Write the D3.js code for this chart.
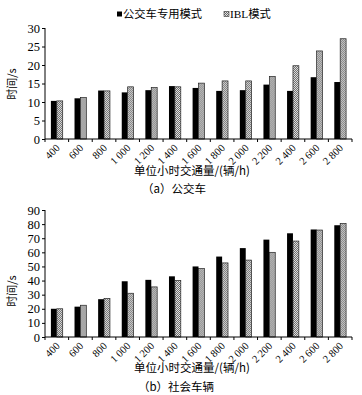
<!DOCTYPE html>
<html><head><meta charset="utf-8">
<script src="https://cdn.jsdelivr.net/npm/d3@7"></script>
<style>body{margin:0;background:#fff}svg{display:block}</style>
</head><body>
<svg id="c" width="362" height="395"></svg>
<script>
const categories = ["400","600","800","1 000","1 200","1 400","1 600","1 800","2 000","2 200","2 400","2 600","2 800"];
const seriesNames = ["公交车专用模式","IBL 模式"];
const busDedicated = [10.3,11.0,13.1,12.6,13.2,14.3,13.8,13.0,13.2,14.7,13.0,16.7,15.4];
const busIBL       = [10.3,11.2,13.0,14.1,13.9,14.1,15.1,15.7,15.7,16.9,19.8,23.8,27.1];
const carDedicated = [20.0,21.5,26.8,39.5,40.5,43.0,50.0,57.0,63.0,69.0,73.5,76.2,79.2];
const carIBL       = [20.0,22.5,27.3,31.0,35.5,40.0,48.5,52.5,54.5,60.0,68.0,75.8,80.5];
const busTicks = [0,5,10,15,20,25,30];
const carTicks = [0,10,20,30,40,50,60,70,80,90];

const svg = d3.select("#c");
const serif = "'Liberation Serif', serif";
const cjk = "'Noto Sans CJK SC', sans-serif";

const defs = svg.append("defs");
const pat = defs.append("pattern").attr("id","hatch").attr("patternUnits","userSpaceOnUse")
  .attr("width",2).attr("height",2);
pat.append("rect").attr("width",2).attr("height",2).attr("fill","#e4e4e4");
pat.append("rect").attr("width",1).attr("height",1).attr("fill","#6a6a6a");
pat.append("rect").attr("x",1).attr("y",1).attr("width",1).attr("height",1).attr("fill","#6a6a6a");

// legend
const lg = svg.append("g");
lg.append("rect").attr("x",117).attr("y",11.5).attr("width",5).attr("height",5).attr("fill","#000");
lg.append("text").attr("x",123).attr("y",18).style("font-family",cjk).style("font-size","11.3px").text(seriesNames[0]);
lg.append("rect").attr("x",224).attr("y",11.5).attr("width",5).attr("height",5).attr("fill","url(#hatch)").attr("stroke","#333").attr("stroke-width",0.6);
const t2 = lg.append("text").attr("x",230).attr("y",18).style("font-size","11.3px");
t2.append("tspan").style("font-family",serif).text("IBL");
t2.append("tspan").style("font-family",cjk).text("模式");

function panel(cfg){
  const g = svg.append("g");
  const x = d3.scaleBand().domain(categories).range([45,352]).paddingInner(0.5).paddingOuter(0.25);
  const y = d3.scaleLinear().domain([0,cfg.max]).range([cfg.y0,cfg.y1]);
  const xs = d3.scaleBand().domain([0,1]).range([0,x.bandwidth()]);
  const data = categories.map((c,i)=>({c, v:[cfg.a[i],cfg.b[i]]}));
  const grp = g.selectAll("g.cat").data(data).join("g").attr("transform",d=>`translate(${x(d.c)},0)`);
  grp.selectAll("rect").data(d=>d.v.map((v,k)=>({v,k}))).join("rect")
    .attr("x",d=>xs(d.k)).attr("width",xs.bandwidth())
    .attr("y",d=>y(d.v)).attr("height",d=>y(0)-y(d.v))
    .attr("fill",d=>d.k===0?"#000":"url(#hatch)")
    .attr("stroke",d=>d.k===0?"none":"#222").attr("stroke-width",0.7);
  // y axis
  const ya = g.append("g").attr("transform","translate(45,0)")
    .call(d3.axisLeft(y).tickValues(cfg.ticks).tickSize(3).tickPadding(2).tickFormat(d3.format("d")));
  ya.attr("font-family",null).attr("font-size",null);
  ya.selectAll("text").style("font-family",serif).style("font-size","12.5px").attr("fill","#000");
  ya.selectAll("line,path").attr("stroke","#000");
  ya.select("path").attr("d",`M0,${cfg.y1}V${cfg.y0}`);
  // x axis
  const xa = g.append("g").attr("transform",`translate(0,${cfg.y0})`);
  xa.append("line").attr("x1",45).attr("x2",352).attr("stroke","#000");
  xa.selectAll("line.tk").data(d3.range(categories.length+1)).join("line").attr("class","tk")
    .attr("x1",i=>45+i*(307/13)).attr("x2",i=>45+i*(307/13)).attr("y1",0).attr("y2",3).attr("stroke","#000");
  xa.selectAll("text").data(categories).join("text")
    .attr("transform",d=>`translate(${x(d)+x.bandwidth()/2+1},7) rotate(-45)`)
    .attr("text-anchor","end").attr("dy","0.35em")
    .style("font-family",serif).style("font-size","10.5px").text(d=>d);
  g.append("text").attr("transform",`translate(16,${cfg.ylab}) rotate(-90)`).attr("text-anchor","middle")
    .style("font-family",cjk).style("font-size","11px").text("时间/s");
  g.append("text").attr("x",192).attr("y",cfg.xt).attr("text-anchor","middle")
    .style("font-family",cjk).style("font-size","11.5px").text("单位小时交通量/(辆/h)");
  g.append("text").attr("x",cfg.capx).attr("y",cfg.cap).attr("text-anchor","middle")
    .style("font-family",cjk).style("font-size","11.5px").text(cfg.caption);
}
panel({a:busDedicated,b:busIBL,max:30,ticks:busTicks,y0:139,y1:28,ylab:84,xt:175,cap:193,capx:174,caption:"（a）公交车"});
panel({a:carDedicated,b:carIBL,max:90,ticks:carTicks,y0:337,y1:210,ylab:291,xt:372,cap:391,capx:176,caption:"（b）社会车辆"});
</script>
</body></html>
